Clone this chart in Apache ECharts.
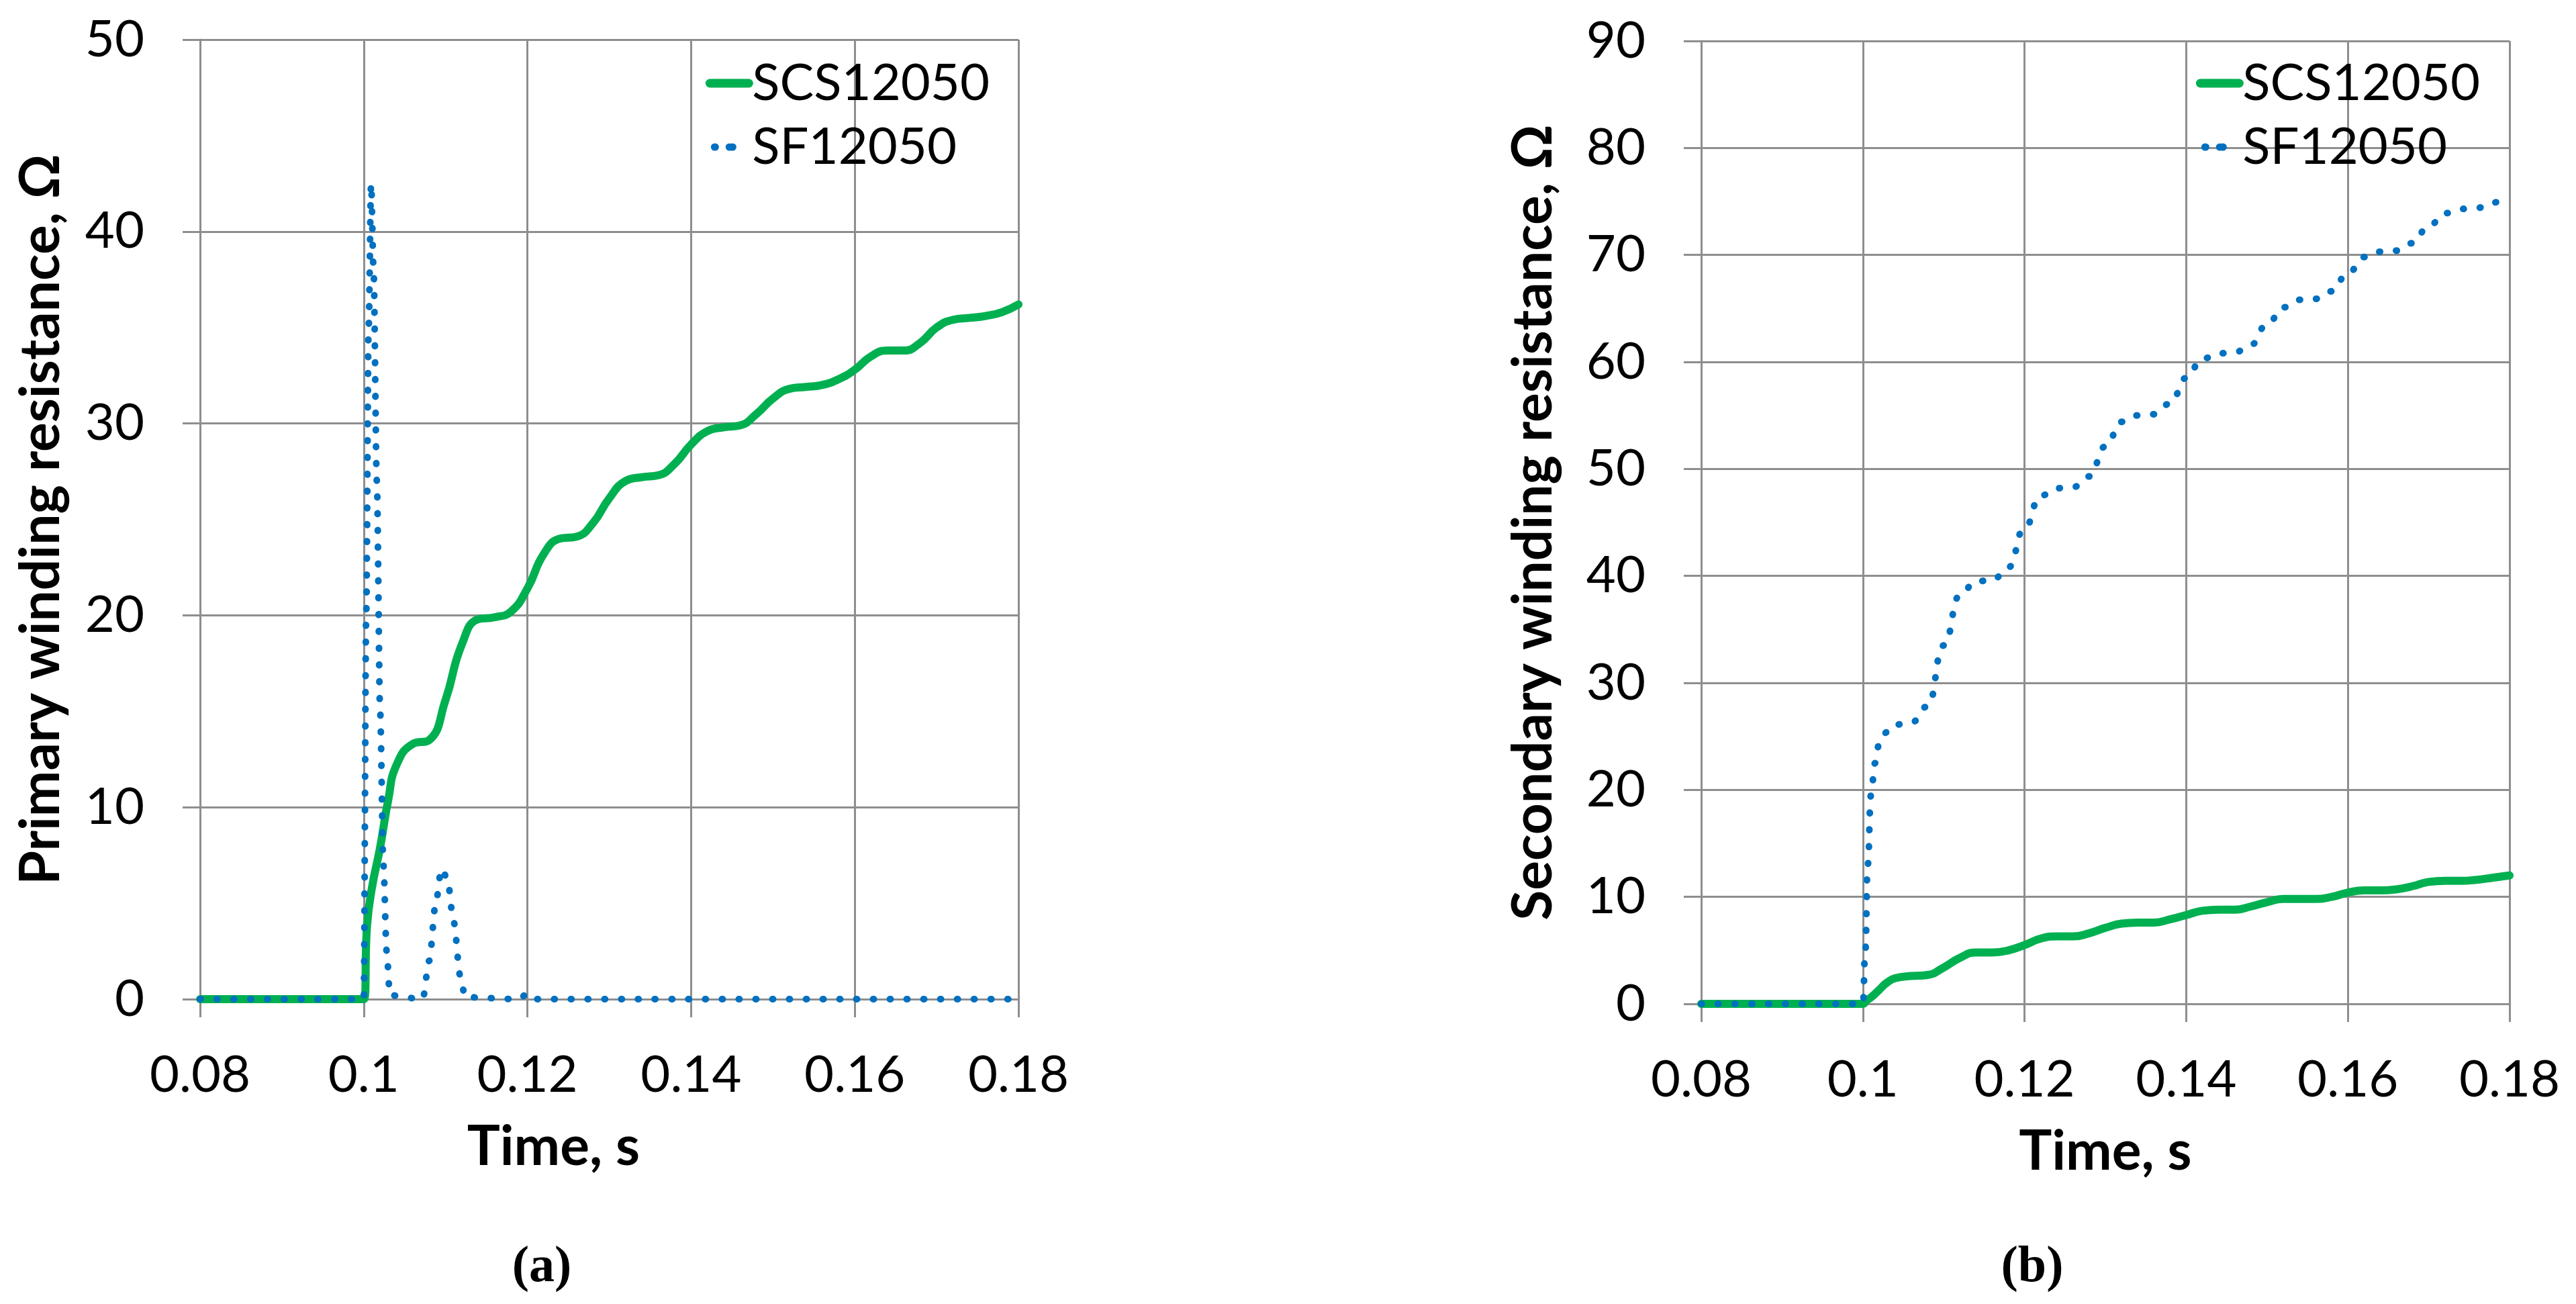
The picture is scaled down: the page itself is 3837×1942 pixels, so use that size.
<!DOCTYPE html>
<html>
<head>
<meta charset="utf-8">
<script src="https://cdn.jsdelivr.net/npm/echarts@6/dist/echarts.min.js"></script>
<style>
  html, body { margin: 0; padding: 0; background: #fff; }
  #chart { width: 3837px; height: 1942px; }
</style>
</head>
<body>
<div id="chart"></div>
<script>
// time axis (s)
const timeTicks = [0.08, 0.1, 0.12, 0.14, 0.16, 0.18];

// green curves share one time base
const scsTime = [0.08, 0.1, 0.1004, 0.101, 0.102, 0.103, 0.104,
  0.106, 0.108, 0.110, 0.112, 0.114, 0.116, 0.118, 0.120, 0.122, 0.124,
  0.126, 0.128, 0.130, 0.132, 0.134, 0.136, 0.138, 0.140, 0.142, 0.144,
  0.146, 0.148, 0.150, 0.152, 0.154, 0.156, 0.158, 0.160, 0.162, 0.164,
  0.166, 0.168, 0.170, 0.172, 0.174, 0.176, 0.178, 0.180];

// (a) primary winding resistance, SCS12050
const primaryScs = [0, 0, 3.8, 5.8, 7.9, 10.4, 12.2,
  13.3, 13.5, 15.6, 18.5, 19.8, 19.9, 20.2, 21.4, 23.2, 24.0,
  24.1, 24.8, 26.1, 27.0, 27.2, 27.3, 27.9, 28.9, 29.6, 29.8,
  29.9, 30.5, 31.3, 31.8, 31.9, 32.0, 32.3, 32.8, 33.5, 33.8,
  33.8, 34.2, 35.0, 35.4, 35.5, 35.6, 35.8, 36.2];

// (a) primary winding resistance, SF12050
const primarySfTime = [0.08, 0.1, 0.1003, 0.1006, 0.1009, 0.1012, 0.1016, 0.102,
  0.1024, 0.1028, 0.1032, 0.1072, 0.108, 0.1088, 0.1095, 0.1102, 0.111,
  0.1118, 0.1124, 0.119, 0.120, 0.121, 0.18];
const primarySf = [0, 0, 20, 35, 42.5, 38, 27, 15,
  7, 2.5, 0.2, 0, 2.0, 5.0, 6.8, 6.3, 4.0,
  1.2, 0.1, 0, 0.3, 0, 0];

// (b) secondary winding resistance, SCS12050
const secondaryScs = [0, 0, 0.3, 0.6, 1.3, 2.0, 2.4,
  2.6, 2.7, 3.4, 4.3, 4.8, 4.8, 5.0, 5.5, 6.1, 6.3,
  6.3, 6.6, 7.1, 7.5, 7.6, 7.6, 7.9, 8.3, 8.7, 8.8,
  8.8, 9.1, 9.5, 9.8, 9.8, 9.8, 10.0, 10.4, 10.6, 10.6,
  10.7, 11.0, 11.4, 11.5, 11.5, 11.6, 11.8, 12.0];

// (b) secondary winding resistance, SF12050
const secondarySfTime = [0.08, 0.1, 0.1003, 0.1006, 0.101, 0.1015, 0.102, 0.103, 0.104,
  0.106, 0.108, 0.110, 0.112, 0.114, 0.116, 0.118, 0.120, 0.122, 0.124,
  0.126, 0.128, 0.130, 0.132, 0.134, 0.136, 0.138, 0.140, 0.142, 0.144,
  0.146, 0.148, 0.150, 0.152, 0.154, 0.156, 0.158, 0.160, 0.162, 0.164,
  0.166, 0.168, 0.170, 0.172, 0.174, 0.176, 0.178, 0.180];
const secondarySf = [0, 0, 5, 13, 19.5, 22.5, 24.2, 25.4, 26.1,
  26.3, 27.8, 33.5, 38.2, 39.5, 39.6, 40.8, 44.5, 47.5, 48.2,
  48.3, 49.3, 52.1, 54.4, 55.0, 55.1, 56.1, 58.5, 60.3, 60.8,
  60.9, 61.6, 63.5, 65.1, 65.8, 65.9, 66.6, 68.3, 69.8, 70.3,
  70.4, 71.1, 72.7, 73.9, 74.3, 74.4, 74.9, 75.7];

const seriesNames = ['SCS12050', 'SF12050'];

const GREEN = '#00B050';
const BLUE = '#0070C0';
const GRIDCOL = '#8e8e8e';
const FONT = 'Lato';
const DOTS = [1, 24];

function pairs(t, v) {
  return t.map((x, i) => [x, v[i]]);
}

function xAxisOf(gridIndex, shift) {
  return {
    gridIndex: gridIndex,
    type: 'value',
    min: timeTicks[0],
    max: timeTicks[timeTicks.length - 1],
    interval: 0.02,
    name: 'Time, s',
    nameLocation: 'middle',
    nameGap: 180,
    nameTextStyle: {
      fontFamily: FONT, fontSize: 82, fontWeight: 'bold', color: '#000',
      padding: shift > 0 ? [0, shift, 0, 0] : 0
    },
    axisLine: { show: true, onZero: false, lineStyle: { color: GRIDCOL, width: 3 } },
    axisTick: { show: true, length: 27, lineStyle: { color: GRIDCOL, width: 3 } },
    axisLabel: { margin: 75, fontFamily: FONT, fontSize: 76, color: '#000' },
    splitLine: { show: true, lineStyle: { color: GRIDCOL, width: 3 } }
  };
}

function yAxisOf(gridIndex, max, name, gap) {
  return {
    gridIndex: gridIndex,
    type: 'value',
    min: 0,
    max: max,
    interval: 10,
    name: name,
    nameLocation: 'middle',
    nameGap: gap,
    nameTextStyle: { fontFamily: FONT, fontSize: 82, fontWeight: 'bold', color: '#000' },
    axisLine: { show: true, lineStyle: { color: GRIDCOL, width: 3 } },
    axisTick: { show: true, length: 26, lineStyle: { color: GRIDCOL, width: 3 } },
    axisLabel: { margin: 83, fontFamily: FONT, fontSize: 76, color: '#000' },
    splitLine: { show: true, lineStyle: { color: GRIDCOL, width: 3 } }
  };
}

function scsSeries(idx, data) {
  return {
    name: seriesNames[0], type: 'line', xAxisIndex: idx, yAxisIndex: idx,
    data: data, symbol: 'none', smooth: 0.5,
    lineStyle: { color: GREEN, width: 12, cap: 'round', join: 'round' },
    itemStyle: { color: GREEN }, z: 2
  };
}

function sfSeries(idx, data, smooth) {
  return {
    name: seriesNames[1], type: 'line', xAxisIndex: idx, yAxisIndex: idx,
    data: data, symbol: 'none', smooth: smooth, smoothMonotone: 'x',
    lineStyle: { color: BLUE, width: 10, type: DOTS, cap: 'round' },
    itemStyle: { color: BLUE }, z: 3
  };
}

function legendOf(right) {
  return {
    orient: 'vertical', right: right, top: 81, align: 'left',
    itemWidth: 58, itemHeight: 14, itemGap: 19,
    textStyle: { fontFamily: FONT, fontSize: 76, color: '#000' },
    data: [
      { name: seriesNames[0], lineStyle: { width: 13, color: GREEN, cap: 'round' } },
      { name: seriesNames[1], lineStyle: { width: 11, color: BLUE, type: [1, 25], dashOffset: -7, cap: 'round' } }
    ]
  };
}

function captionOf(x, letter) {
  return {
    text: '{p|(}{b|' + letter + '}{p|)}',
    left: x, top: 1845, textAlign: 'center',
    textStyle: {
      rich: {
        p: { fontFamily: 'Liberation Serif', fontSize: 76, color: '#000' },
        b: { fontFamily: 'Liberation Serif', fontSize: 76, fontWeight: 'bold', color: '#000' }
      }
    }
  };
}

const chart = echarts.init(document.getElementById('chart'), null, { renderer: 'canvas' });
chart.setOption({
  backgroundColor: '#fff',
  animation: false,
  title: [captionOf(802, 'a'), captionOf(3022, 'b')],
  legend: [legendOf(2358), legendOf(138)],
  grid: [
    { left: 298, top: 59, width: 1219, height: 1429 },
    { left: 2534, top: 61, width: 1204, height: 1434 }
  ],
  xAxis: [xAxisOf(0, 166), xAxisOf(1, 0)],
  yAxis: [
    yAxisOf(0, 50, 'Primary winding resistance, Ω', 195),
    yAxisOf(1, 90, 'Secondary winding resistance, Ω', 208)
  ],
  series: [
    scsSeries(0, pairs(scsTime, primaryScs)),
    sfSeries(0, pairs(primarySfTime, primarySf), 0.3),
    scsSeries(1, pairs(scsTime, secondaryScs)),
    sfSeries(1, pairs(secondarySfTime, secondarySf), 0.5)
  ]
});
</script>
</body>
</html>
